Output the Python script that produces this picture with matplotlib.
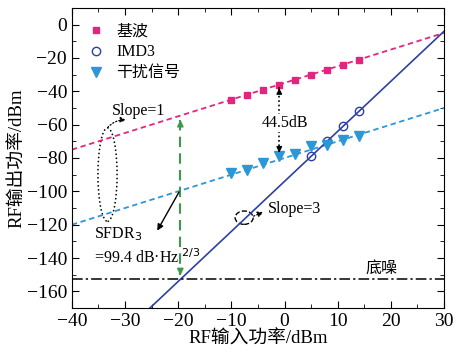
import matplotlib.pyplot as plt
from matplotlib.patches import Ellipse
from matplotlib.ticker import MultipleLocator
import numpy as np

plt.rcParams['font.family'] = ['Liberation Serif', 'Noto Sans CJK SC']
plt.rcParams['axes.unicode_minus'] = True

# measured points
pin = [-10, -7, -4, -1, 2, 5, 8, 11, 14]
fund = [-45, -42, -39, -36, -33, -30, -27, -24, -21.5]
imd_x = [5, 8, 11, 14]
imd3 = [-79, -70, -61, -52]
interf = [-89, -87, -83, -79, -77.5, -73, -72.5, -69, -67]

# fitted lines: slope, intercept
fund_fit = (1, -35)
interf_fit = (1, -80)
imd_fit = (3, -94)
noise_floor = -152.3
fit_x = np.array([-40, 30])

pink = '#e5247f'
dblue = '#2e41a3'
lblue = '#2b97d6'
green = '#3b9a4c'

fig = plt.figure(figsize=(4.55, 3.57), dpi=100)
ax = fig.add_axes([0.158, 0.137, 0.818, 0.841])

ax.plot(fit_x, fund_fit[0]*fit_x + fund_fit[1], '--', color=pink, lw=1.3, dashes=(3, 2))
ax.plot(fit_x, interf_fit[0]*fit_x + interf_fit[1], '--', color=lblue, lw=1.3, dashes=(3, 2))
ax.plot(fit_x, imd_fit[0]*fit_x + imd_fit[1], '-', color=dblue, lw=1.2)

ax.plot(pin, fund, 's', color=pink, ms=5, ls='none', label='基波')
ax.plot(imd_x, imd3, 'o', mfc='none', mec=dblue, ms=6, mew=1, ls='none', label='IMD3')
ax.plot(pin, interf, 'v', color=lblue, ms=7, ls='none', label='干扰信号')

ax.axhline(noise_floor, color='black', lw=1.1, ls=(0, (7, 2, 1.5, 2)))
ax.text(18.3, -146.5, '底噪', fontsize=11.5, ha='center', va='center')

# SFDR marker (green dashed double arrow)
xs = -19.6
ax.plot([xs, xs], [-57, -150], '--', color=green, lw=1.5, dashes=(5, 3))
ax.annotate('', xy=(xs, -55.5), xytext=(xs, -62),
            arrowprops=dict(arrowstyle='-|>', color=green, lw=1.2, mutation_scale=9))
ax.annotate('', xy=(xs, -152), xytext=(xs, -146),
            arrowprops=dict(arrowstyle='-|>', color=green, lw=1.2, mutation_scale=9))

# 44.5 dB arrow
xd = -1
ax.plot([xd, xd], [-37.5, -77], ':', color='black', lw=1.2)
ax.annotate('', xy=(xd, -36.5), xytext=(xd, -41),
            arrowprops=dict(arrowstyle='-|>', color='black', lw=1, mutation_scale=8))
ax.annotate('', xy=(xd, -78.5), xytext=(xd, -74),
            arrowprops=dict(arrowstyle='-|>', color='black', lw=1, mutation_scale=8))
ax.text(0, -59, '44.5dB', fontsize=11.5, ha='center', va='center',
        bbox=dict(facecolor='white', edgecolor='none', pad=0.5))

# Slope=1 ellipse
ax.add_patch(Ellipse((-33.3, -90), 3.6, 56, fill=False, ls=':', lw=1.1, color='black'))
ax.annotate('', xy=(-29.3, -57.5), xytext=(-33.6, -63),
            arrowprops=dict(arrowstyle='-|>', color='black', lw=0.9, ls=':',
                            connectionstyle='arc3,rad=-0.3', mutation_scale=8))
ax.text(-32.5, -52, 'Slope=1', fontsize=11.5, ha='left', va='center')

# Slope=3 ellipse
ax.add_patch(Ellipse((-7.6, -115.8), 3.4, 8, fill=False, ls='--', lw=1, color='black'))
ax.annotate('', xy=(-3.5, -111.8), xytext=(-6.3, -115.5),
            arrowprops=dict(arrowstyle='-|>', color='black', lw=0.9, ls=':',
                            mutation_scale=8))
ax.text(-3.1, -110.8, 'Slope=3', fontsize=11.5, ha='left', va='center')

# SFDR3 arrow and text
ax.annotate('', xy=(-24.2, -125), xytext=(-19.6, -99),
            arrowprops=dict(arrowstyle='-|>', color='black', lw=1, mutation_scale=9))
ax.text(-35.8, -125.5, 'SFDR$_3$', fontsize=11.5, ha='left', va='center')
ax.text(-35.8, -139.5, '=99.4 dB·Hz $^{2/3}$', fontsize=11.5, ha='left', va='center')

ax.set_xlim(-40, 30)
ax.set_ylim(-170, 10)
ax.xaxis.set_major_locator(MultipleLocator(10))
ax.xaxis.set_minor_locator(MultipleLocator(5))
ax.yaxis.set_major_locator(MultipleLocator(20))
ax.yaxis.set_minor_locator(MultipleLocator(10))
ax.tick_params(which='both', direction='in', top=True, right=True, labelsize=14)
ax.tick_params(which='major', length=5)
ax.tick_params(which='minor', length=3)

ax.set_xlabel('RF输入功率/dBm', fontsize=13.5, labelpad=0)
ax.set_ylabel('RF输出功率/dBm', fontsize=13.5, labelpad=0)

ax.legend(loc='upper left', frameon=False, fontsize=11.5, handletextpad=0.5,
          handlelength=1.6, borderaxespad=0.3, labelspacing=0.3,
          bbox_to_anchor=(0.0, 0.985))

fig.savefig('out.png', dpi=100)
